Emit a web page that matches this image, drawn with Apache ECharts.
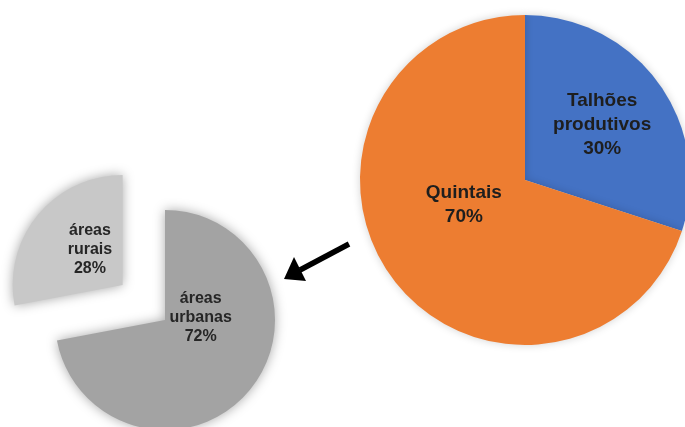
<!DOCTYPE html>
<html><head><meta charset="utf-8">
<script src="https://cdn.jsdelivr.net/npm/echarts@6/dist/echarts.min.js"></script>
<style>html,body{margin:0;padding:0;background:#fff}#c{width:685px;height:427px}</style>
</head><body><div id="c"></div>
<script>
const mainCategories = ['Talhões\nprodutivos', 'Quintais'];
const mainValues = [30, 70];
const subCategories = ['áreas\nurbanas', 'áreas\nrurais'];
const subValues = [72, 28];

const mainColors = ['#4472C4', '#ED7D31'];
const subColors = ['#A3A3A3', '#C8C8C8'];
const mainLabelShift = [[8, -5], [8, -25]];
const subLabelShift = [[-9, -39], [12, 2]];

const chart = echarts.init(document.getElementById('c'));
chart.setOption({
  animation: false,
  backgroundColor: '#ffffff',
  series: [
    {
      type: 'pie',
      center: [525, 180],
      radius: 165,
      startAngle: 90,
      silent: true,
      itemStyle: { shadowBlur: 8, shadowColor: 'rgba(0,0,0,0.18)' },
      label: {
        position: 'inside',
        formatter: p => p.name + '\n' + p.value + '%',
        fontFamily: 'Liberation Sans, Arial, sans-serif',
        fontWeight: 'bold',
        fontSize: 19,
        lineHeight: 24,
        color: '#1e1e1e',
        align: 'center'
      },
      labelLine: { show: false },
      labelLayout: p => ({ dx: mainLabelShift[p.dataIndex][0], dy: mainLabelShift[p.dataIndex][1] }),
      data: mainCategories.map((n, i) => ({ name: n, value: mainValues[i], itemStyle: { color: mainColors[i] } }))
    },
    {
      type: 'pie',
      center: [165, 320],
      radius: 110,
      startAngle: 90,
      silent: true,
      selectedMode: 'single',
      selectedOffset: 55,
      itemStyle: { shadowBlur: 12, shadowColor: 'rgba(0,0,0,0.35)' },
      label: {
        position: 'inside',
        formatter: p => p.name + '\n' + p.value + '%',
        fontFamily: 'Liberation Sans, Arial, sans-serif',
        fontWeight: 'bold',
        fontSize: 16,
        lineHeight: 19,
        color: '#262626',
        align: 'center'
      },
      labelLine: { show: false },
      labelLayout: p => ({ dx: subLabelShift[p.dataIndex][0], dy: subLabelShift[p.dataIndex][1] }),
      data: subCategories.map((n, i) => ({ name: n, value: subValues[i], selected: i === 1, itemStyle: { color: subColors[i] } }))
    }
  ],
  graphic: [
    { type: 'line', shape: { x1: 349, y1: 244, x2: 300, y2: 270 }, style: { stroke: '#000', lineWidth: 5.5 } },
    { type: 'polygon', shape: { points: [[284, 279], [294, 257], [306, 281]] }, style: { fill: '#000' } }
  ]
});
</script>
</body></html>
